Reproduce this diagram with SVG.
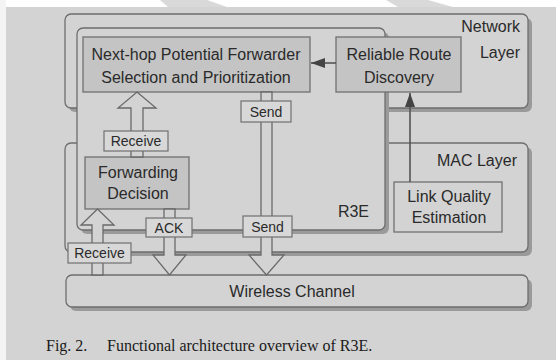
<svg xmlns="http://www.w3.org/2000/svg" width="556" height="360" viewBox="0 0 556 360">
<defs>
<style>
.bg{fill:#d3d3d3}
.layer{fill:#d3d3d3;stroke:#6e6e6e;stroke-width:1.3}
.shadow{fill:#9a9a9a}
.box{fill:#c4c4c4;stroke:#707070;stroke-width:1.3}
.plain{fill:#d3d3d3;stroke:#707070;stroke-width:1.3}
.lbl{fill:#d8d8d8;stroke:#707070;stroke-width:1.2}
.hollow{fill:#d3d3d3;stroke:#6a6a6a;stroke-width:1.3;stroke-linejoin:miter}
.line{stroke:#555;stroke-width:1.6;fill:none}
text{font-family:"Liberation Sans",Arial,sans-serif;font-size:16px;fill:#2a2a2a}
.c{text-anchor:middle}
.r{text-anchor:end}
.s{font-size:14px}
.cap{font-family:"Liberation Serif","Times New Roman",serif;font-size:16px;fill:#1a1a1a}
</style>
<marker id="ah" viewBox="0 0 10 10" refX="10" refY="5" markerWidth="7" markerHeight="7" orient="auto" markerUnits="userSpaceOnUse">
<path d="M0,0 L10,5 L0,10 z" fill="#444"/>
</marker>
<marker id="ah2" viewBox="0 0 14 10" refX="14" refY="5" markerWidth="14" markerHeight="10" orient="auto" markerUnits="userSpaceOnUse">
<path d="M0,0 L14,5 L0,10 z" fill="#444"/>
</marker>
</defs>
<rect class="bg" x="0" y="0" width="556" height="360"/>
<rect x="0" y="0" width="556" height="7" fill="#ffffff"/>
<rect x="0" y="0" width="6" height="360" fill="#f4f4f4"/>
<polygon points="160,0 207,0 227,7 168,7" fill="#d9d9d9"/>
<polygon points="386,0 428,0 453,7 398,7" fill="#d9d9d9"/>

<g id="network-layer">
<rect class="shadow" x="69" y="18" width="463" height="94" rx="6"/>
<rect class="layer" x="65" y="14" width="463" height="94" rx="6"/>
<text class="r" x="520" y="32">Network</text>
<text class="r" x="520" y="58">Layer</text>
</g>
<g id="mac-layer">
<rect class="shadow" x="69" y="147" width="463" height="109" rx="6"/>
<rect class="layer" x="65" y="143" width="463" height="109" rx="6"/>
<text class="r" x="517" y="166">MAC Layer</text>
</g>
<g id="wireless-channel">
<rect class="shadow" x="70" y="279" width="462" height="32" rx="6"/>
<rect class="layer" x="66" y="275" width="462" height="32" rx="6"/>
<text class="c" x="292" y="297">Wireless Channel</text>
</g>
<g id="r3e">
<rect class="shadow" x="81" y="32" width="308" height="202" rx="6"/>
<rect class="layer" x="77" y="28" width="308" height="202" rx="6"/>
<text class="r" x="369" y="217">R3E</text>
</g>
<g id="next-hop">
<rect class="box" x="83" y="37" width="227" height="55"/>
<text class="c" x="196" y="60">Next-hop Potential Forwarder</text>
<text class="c" x="196" y="83">Selection and Prioritization</text>
</g>
<g id="reliable-route">
<rect class="box" x="336" y="37" width="125" height="55"/>
<text class="c" x="399" y="60">Reliable Route</text>
<text class="c" x="399" y="83">Discovery</text>
</g>
<g id="forwarding-decision">
<rect class="box" x="85" y="157" width="104" height="52"/>
<text class="c" x="138" y="178">Forwarding</text>
<text class="c" x="138" y="199">Decision</text>
</g>
<g id="link-quality">
<rect class="plain" x="394" y="182" width="108" height="50"/>
<text class="c" x="449" y="202">Link Quality</text>
<text class="c" x="449" y="223">Estimation</text>
</g>

<g id="connectors">
<line class="line" x1="336" y1="63" x2="311" y2="63" marker-end="url(#ah2)"/>
<line class="line" x1="410" y1="182" x2="410" y2="93" marker-end="url(#ah2)"/>
<polygon class="hollow" points="137,92 156,108 143,108 143,157 131,157 131,108 118,108"/>
<polygon class="hollow" points="261,92 272,92 272,255 284,255 266.5,275 249,255 261,255"/>
<polygon class="hollow" points="164,209 175,209 175,255 186,255 169.5,275 153,255 164,255"/>
<polygon class="hollow" points="97.5,209 114,225 103,225 103,275 92,275 92,225 81,225"/>
<rect class="lbl" x="104" y="131" width="64" height="20"/>
<text class="c s" x="136" y="146">Receive</text>
<rect class="lbl" x="241" y="101" width="50" height="21"/>
<text class="c s" x="266" y="117">Send</text>
<rect class="lbl" x="243" y="216" width="49" height="21"/>
<text class="c s" x="267.5" y="232">Send</text>
<rect class="lbl" x="146" y="218" width="46" height="19"/>
<text class="c s" x="169" y="233">ACK</text>
<rect class="lbl" x="68" y="243" width="63" height="20"/>
<text class="c s" x="99.5" y="258">Receive</text>
</g>

<text class="cap" x="46" y="351">Fig. 2.<tspan x="107">Functional architecture overview of R3E.</tspan></text>
</svg>
